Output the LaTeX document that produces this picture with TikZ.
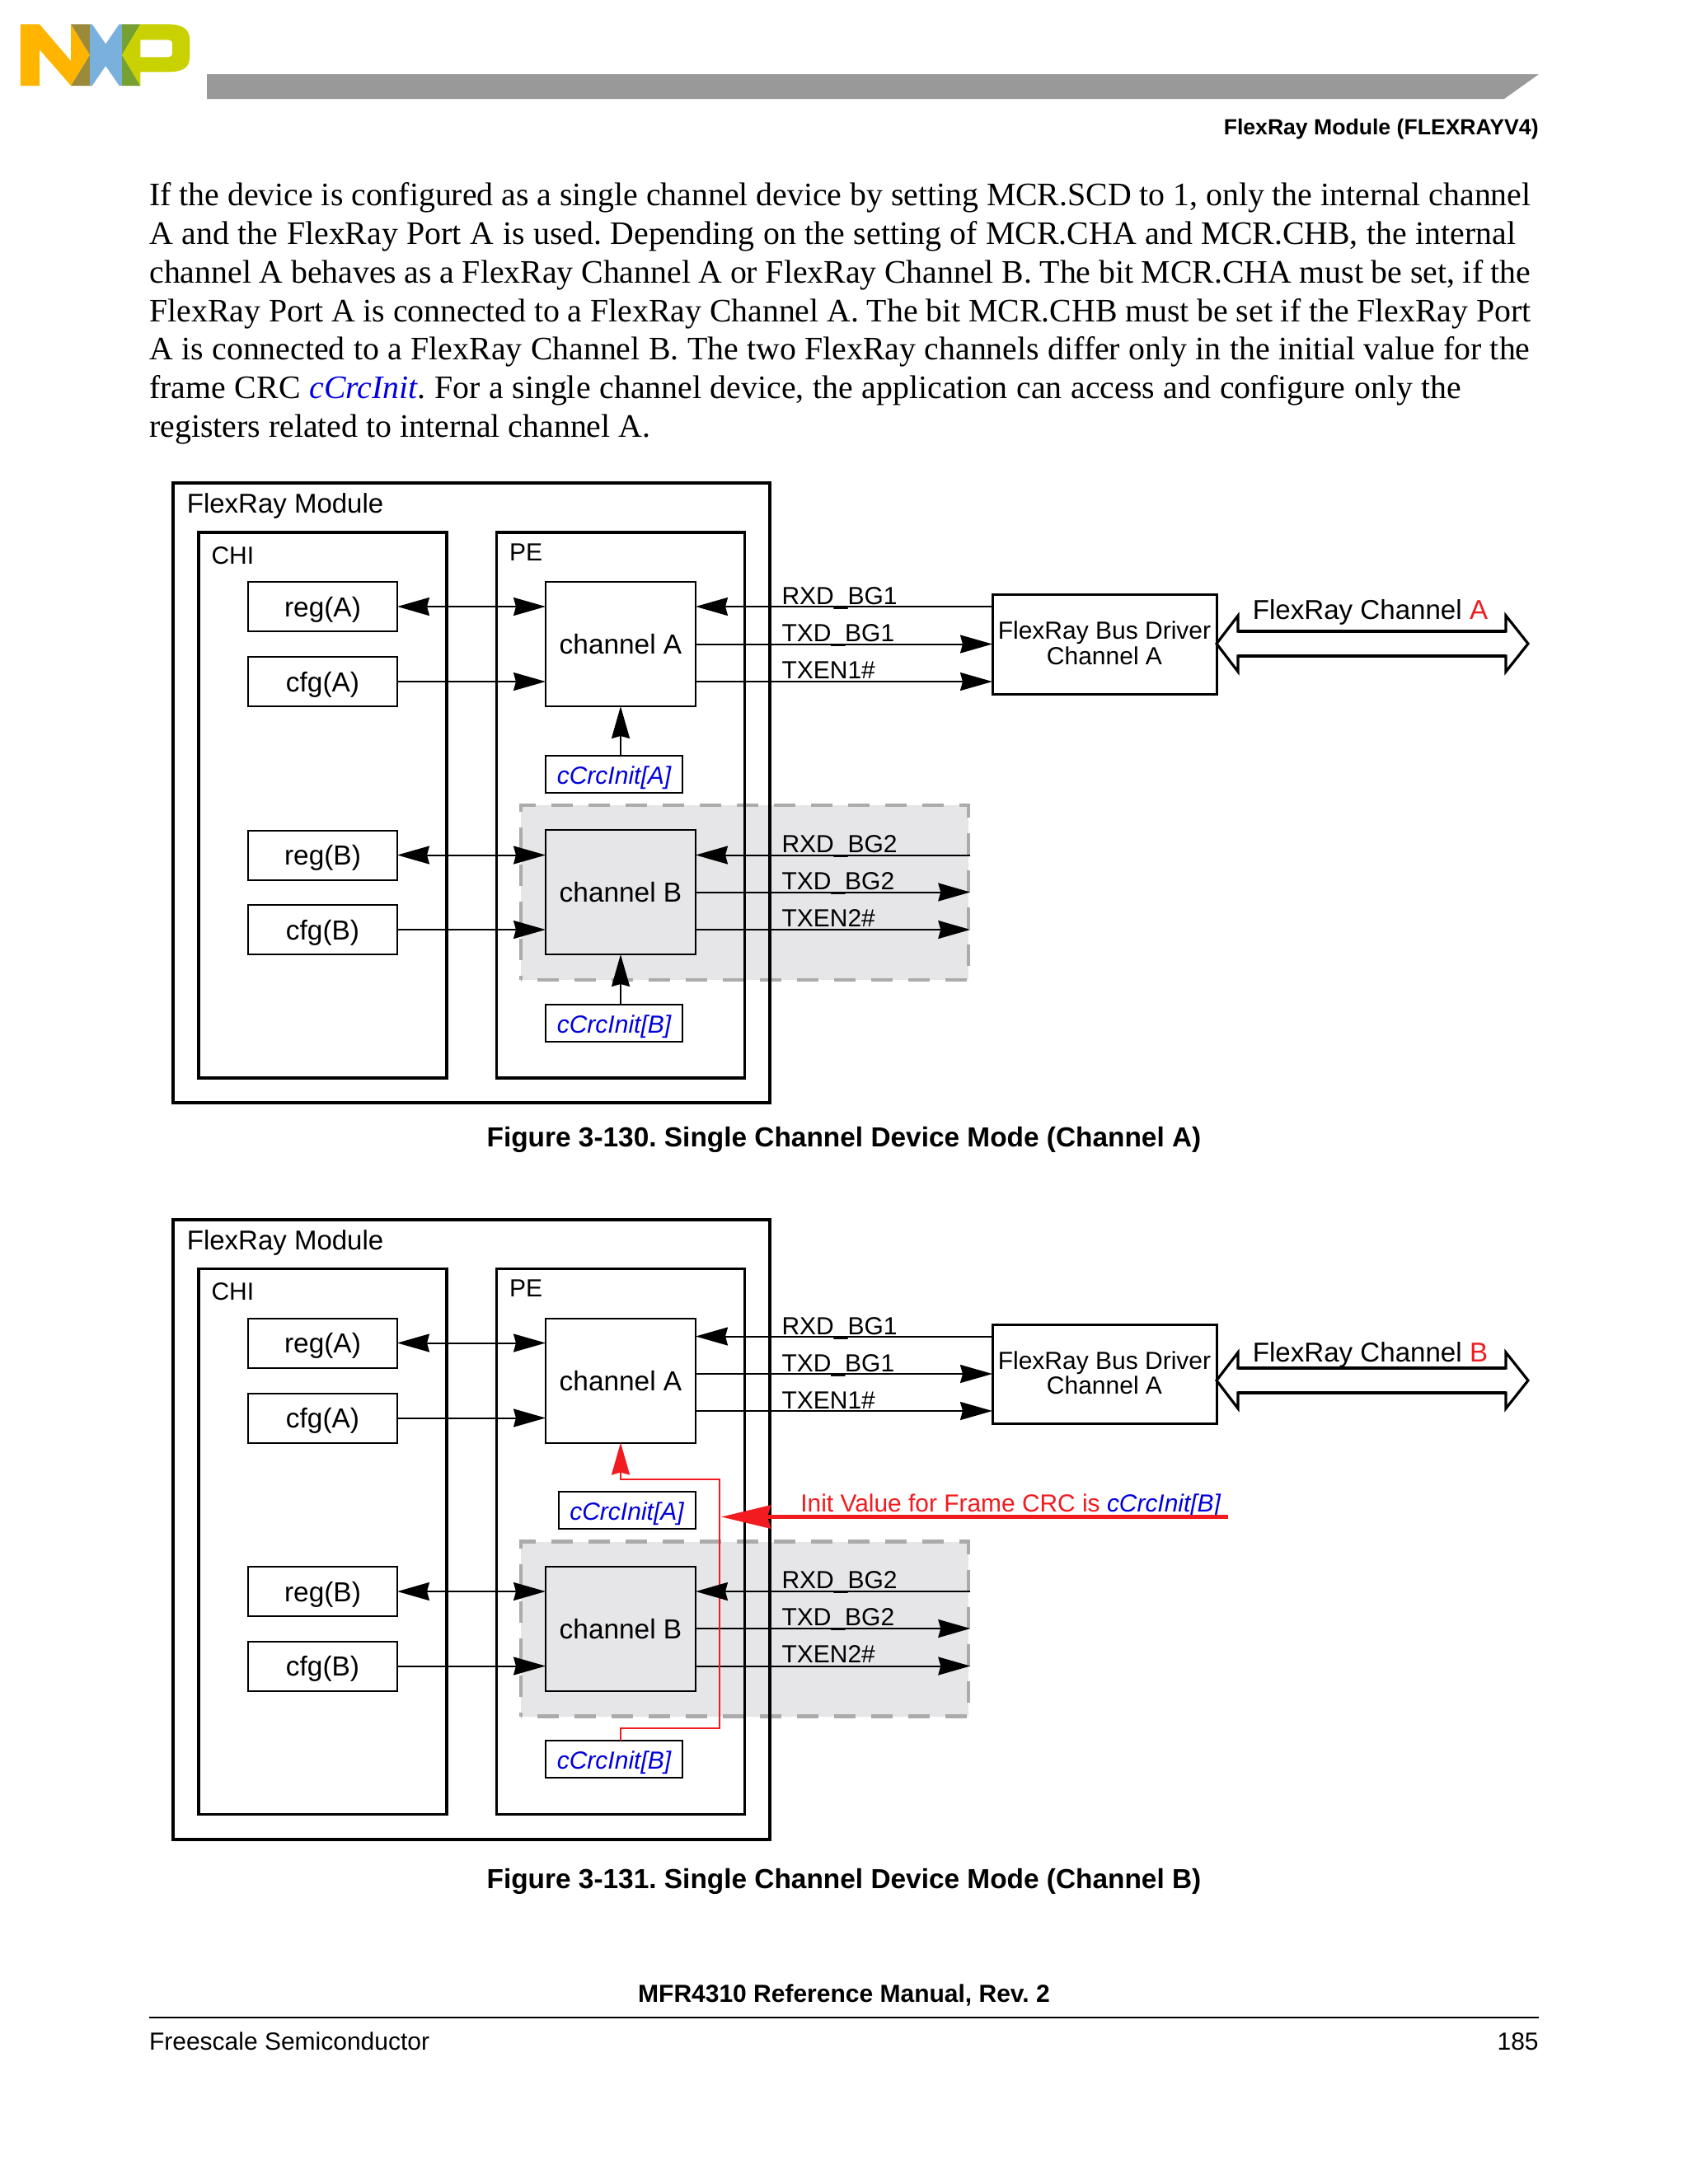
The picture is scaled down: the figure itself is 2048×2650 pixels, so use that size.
\documentclass[tikz,border=0pt]{standalone}
\usepackage{fontspec}
\setmainfont{Liberation Serif}
\setsansfont{Liberation Sans}
\usetikzlibrary{arrows.meta,calc}
\frenchspacing
\definecolor{barg}{HTML}{999999}
\definecolor{greyfill}{HTML}{E6E5E8}
\definecolor{greydash}{HTML}{ABABAB}
\definecolor{nxorange}{HTML}{FFB500}
\definecolor{nxblue}{HTML}{7AB1DC}
\definecolor{nxolive}{HTML}{9A8A3A}
\definecolor{nxgreen}{HTML}{76A032}
\definecolor{nxlime}{HTML}{C9D200}
\definecolor{redtxt}{HTML}{F21B1F}
\definecolor{bluetxt}{HTML}{0000DD}
\newcommand{\fsz}[1]{\fontsize{#1}{#1}\selectfont}
\newcommand{\blueit}[1]{\textcolor{bluetxt}{\itshape #1}}
\newcommand{\fitline}[2]{\makebox[#1pt][s]{#2}}
\tikzset{
  x=0.5pt,y=-0.5pt,
  lab/.style={anchor=base west,inner sep=0pt,outer sep=0pt,font=\sffamily\fsz{15}},
  titlelab/.style={anchor=base west,inner sep=0pt,font=\sffamily\fsz{16.5}},
  bodyline/.style={anchor=base west,inner sep=0pt,font=\rmfamily\fsz{19.9}},
  caption/.style={anchor=base,inner sep=0pt,font=\sffamily\bfseries\fsz{16.7}},
  outerbox/.style={draw=black,line width=2pt,inner sep=0pt,outer sep=0pt},
  midbox/.style={draw=black,line width=1.7pt,inner sep=0pt,outer sep=0pt},
  smallbox/.style={draw=black,line width=1pt,inner sep=0pt,outer sep=0pt,minimum width=90.5pt,minimum height=30pt,text height=12pt,text depth=0pt,font=\sffamily\fsz{16.7}},
  chanbox/.style={draw=black,line width=1pt,inner sep=0pt,outer sep=0pt,minimum width=91pt,minimum height=75.5pt,text height=12pt,text depth=0pt,font=\sffamily\fsz{16.7}},
  initbox/.style={draw=black,line width=1pt,fill=white,inner sep=0pt,outer sep=0pt,minimum width=83pt,minimum height=22.5pt,text height=12pt,text depth=0pt,font=\sffamily\fsz{15}},
  drvbox/.style={draw=black,line width=1.5pt,inner sep=0pt,outer sep=0pt,minimum width=136pt,minimum height=60.5pt,align=center,font=\sffamily\fsz{15}},
  head/.style={-{Stealth[length=19.5pt,width=11pt,inset=1.5pt]}},
  heads/.style={{Stealth[length=19.5pt,width=11pt,inset=1.5pt]}-{Stealth[length=19.5pt,width=11pt,inset=1.5pt]}},
  conn/.style={line width=1pt,black},
  redline/.style={line width=1pt,redtxt},
  bigarrow/.style={draw=black,line width=1.6pt,fill=white,miter limit=10},
  shaft/.style={line width=2.2pt,black},
}
% #1 prefix, #2 y offset: what both figures share
\newcommand{\modulefig}[2]{%
\begin{scope}[shift={(0,#2)}]
  \fill[greyfill] (632,977) rectangle (1175,1189);
  \node[draw=greydash,line width=2.3pt,dash pattern=on 13pt off 9.5pt,dash phase=12.5pt,inner sep=0pt,minimum width=271.5pt,minimum height=106pt] (#1grey) at (903.5,1083) {};
  \node[outerbox,minimum width=362pt,minimum height=376pt] (#1outer) at (572,962) {};
  \node[midbox,minimum width=150.5pt,minimum height=331pt] (#1chi) at (391.5,977) {};
  \node[midbox,minimum width=150.5pt,minimum height=331pt] (#1pe) at (753,977) {};
  \node[titlelab] (#1title) at (226.5,622.7) {FlexRay Module};
  \node[lab] (#1chit) at (256.5,684) {CHI};
  \node[lab] (#1pet) at (618,680) {PE};
  \node[smallbox] (#1rega) at (391.5,736) {reg(A)};
  \node[smallbox] (#1cfga) at (391.5,827) {cfg(A)};
  \node[smallbox] (#1regb) at (391.5,1037.5) {reg(B)};
  \node[smallbox] (#1cfgb) at (391.5,1128) {cfg(B)};
  \node[chanbox] (#1cha) at (753,781.5) {channel A};
  \node[chanbox] (#1chb) at (753,1082.5) {channel B};
  \node[initbox] (#1ib) at (745,1241) {\blueit{cCrcInit[B]}};
  \draw[conn,heads] (#1rega.east) -- (#1cha.west |- #1rega.east);
  \draw[conn,head] (#1cfga.east) -- (#1cha.west |- #1cfga.east);
  \draw[conn,heads] (#1regb.east) -- (#1chb.west |- #1regb.east);
  \draw[conn,head] (#1cfgb.east) -- (#1chb.west |- #1cfgb.east);
  \draw[conn,head] (#1chb.east) -- (#1grey.east |- #1chb.east);
  \draw[conn,head] (#1chb.east |- #1cfgb.east) -- (#1grey.east |- #1cfgb.east);
  \node[lab] (#1r2) at (948.5,1034) {RXD\_BG2};
  \node[lab] (#1t2) at (948.5,1079) {TXD\_BG2};
  \node[lab] (#1e2) at (948.5,1124) {TXEN2\#};
\end{scope}}
\newcommand{\rxdtwo}[1]{\draw[conn,head] (#1grey.east |- #1regb.east) -- (#1chb.east |- #1regb.east);}
% #1 prefix #2 arrow centre y #3 label baseline #4 letter
\newcommand{\bigdouble}[4]{%
  \draw[bigarrow] (#1drv.east |- 0,#2) -- (1502,#2-34) -- (1502,#2-15) -- (1827,#2-15) -- (1827,#2-34) -- (1854,#2) -- (1827,#2+34) -- (1827,#2+15) -- (1502,#2+15) -- (1502,#2+34) -- cycle;
  \draw[shaft] (1502,#2-15) -- (1827,#2-15);
  \draw[shaft] (1502,#2+15) -- (1827,#2+15);
  \node[titlelab,font=\sffamily\fsz{16.55}] (#1cht) at (1519.5,#3) {FlexRay Channel \textcolor{redtxt}{#4}};}
\begin{document}
\begin{tikzpicture}
\useasboundingbox (0,0) rectangle (2048,2650);
\fill[white] (0,0) rectangle (2048,2650);
% logo
\begin{scope}[x=0.19135pt,y=-0.16667pt]
  \fill[nxorange] (65,88)--(125,88)--(225,222)--(225,88)--(285,200)--(225,312)--(125,180)--(125,312)--(65,312)--cycle;
  \fill[nxolive] (225,88)--(285,88)--(285,200)--cycle;
  \fill[nxolive] (285,200)--(285,312)--(225,312)--cycle;
  \fill[nxblue] (285,88)--(292,88)--(335,160)--(378,88)--(387,88)--(387,312)--(378,312)--(335,240)--(292,312)--(285,312)--cycle;
  \fill[nxgreen] (387,88)--(445,88)--(387,200)--cycle;
  \fill[nxgreen] (387,200)--(445,312)--(387,312)--cycle;
  \fill[nxlime,even odd rule] (445,88)--(530,88) .. controls (585,88) and (602,110) .. (602,150) -- (602,200) .. controls (602,245) and (585,262) .. (530,262) -- (445,262)--(445,312)--(387,200)--cycle
     (445,145)--(530,145) .. controls (542,145) and (546,150) .. (546,160) -- (546,192) .. controls (546,203) and (542,208) .. (530,208) -- (445,208)--cycle;
\end{scope}
% header
\fill[barg] (251,90) -- (1867,90) -- (1825,120) -- (251,120) -- cycle;
\node[anchor=base east,inner sep=0pt,font=\sffamily\bfseries\fsz{13.3}] (hdr) at (1867,163) {FlexRay Module (FLEXRAYV4)};
% body
\node[bodyline] (l1) at (181,249.5) {\fitline{838}{If the device is configured as a single channel device by setting MCR.SCD to 1, only the internal channel}};
\node[bodyline] (l2) at (181,296.3) {\fitline{829}{A and the FlexRay Port A is used. Depending on the setting of MCR.CHA and MCR.CHB, the internal}};
\node[bodyline] (l3) at (181,343) {\fitline{838}{channel A behaves as a FlexRay Channel A or FlexRay Channel B. The bit MCR.CHA must be set, if the}};
\node[bodyline] (l4) at (181,390) {\fitline{838}{FlexRay Port A is connected to a FlexRay Channel A. The bit MCR.CHB must be set if the FlexRay Port}};
\node[bodyline] (l5) at (181,436.7) {\fitline{837.5}{A is connected to a FlexRay Channel B. The two FlexRay channels differ only in the initial value for the}};
\node[bodyline] (l6) at (181,483.4) {\fitline{796}{frame CRC \blueit{cCrcInit}. For a single channel device, the application can access and configure only the}};
\node[bodyline] (l7) at (181,530) {registers related to internal channel A.};
% figure 1
\modulefig{p}{0}
\rxdtwo{p}
\node[initbox] (pia) at (745,939) {\blueit{cCrcInit[A]}};
\draw[conn,head] (pia.north -| pcha.south) -- (pcha.south);
\draw[conn,head] (pib.north -| pchb.south) -- (pchb.south);
\node[drvbox] (pdrv) at (1340,781.5) {FlexRay Bus Driver\\[0.5pt]Channel A\rule[-1.5pt]{0pt}{0pt}};
\coordinate (pa1) at (pdrv.west |- 0,736);
\coordinate (pa3) at (pcha.east |- 0,827);
\draw[conn,head] (pa1) -- (pcha.east |- pa1);
\draw[conn,head] (pcha.east) -- (pdrv.west |- pcha.east);
\draw[conn,head] (pa3) -- (pdrv.west |- pa3);
\node[lab] (pr1) at (948.5,733) {RXD\_BG1};
\node[lab] (pt1) at (948.5,778) {TXD\_BG1};
\node[lab] (pe1) at (948.5,823) {TXEN1\#};
\bigdouble{p}{781}{751}{A}
\node[caption] (cap1) at (1024,1391) {Figure 3-130. Single Channel Device Mode (Channel A)};
% figure 2
\modulefig{q}{893.5}
\node[initbox] (qia) at (760.5,1832.5) {\blueit{cCrcInit[A]}};
\node[drvbox,minimum height=60pt] (qdrv) at (1340,1667.5) {FlexRay Bus Driver\\[0pt]Channel A\rule[-1.5pt]{0pt}{0pt}};
\coordinate (qa1) at (qdrv.west |- 0,1621.5);
\coordinate (qa3) at (qcha.east |- 0,1712);
\draw[conn,head] (qa1) -- (qcha.east |- qa1);
\draw[conn,head] (qcha.east |- 0,1667) -- (qdrv.west |- 0,1667);
\draw[conn,head] (qa3) -- (qdrv.west |- qa3);
\node[lab] (qr1) at (948.5,1619) {RXD\_BG1};
\node[lab] (qt1) at (948.5,1664) {TXD\_BG1};
\node[lab] (qe1) at (948.5,1709) {TXEN1\#};
\bigdouble{q}{1675}{1652}{B}
\coordinate (rc1) at (873,1795);
\coordinate (rc2) at (873,2096.5);
\draw[redline,-{Stealth[length=19.5pt,width=11pt,inset=1.5pt]}] (qib.north -| qcha.south) |- (rc2) -- (rc1) -| (qcha.south);
\rxdtwo{q}
\node[anchor=base west,inner sep=0pt,font=\sffamily\fsz{14.95}] (qrt) at (971,1834.5) {\textcolor{redtxt}{Init Value for Frame CRC is }\blueit{cCrcInit[B]}};
\coordinate (qre) at (1490,1840.5);
\coordinate (qrh) at (875,1840.5);
\draw[redtxt,line width=2.2pt,-{Stealth[length=30pt,width=14pt,inset=2pt]}] (qre) -- (qrh);
\node[caption] (cap2) at (1024,2291) {Figure 3-131. Single Channel Device Mode (Channel B)};
% footer
\node[caption,font=\sffamily\bfseries\fsz{15}] (ft) at (1024,2429) {MFR4310 Reference Manual, Rev. 2};
\coordinate (rl) at (181,2448);
\coordinate (rr) at (1867,2448);
\draw[line width=1pt] (rl) -- (rr);
\node[lab] (fs) at (181,2487) {Freescale Semiconductor};
\node[anchor=base east,inner sep=0pt,font=\sffamily\fsz{15}] (pg) at (1867,2487) {185};
\end{tikzpicture}
\end{document}
